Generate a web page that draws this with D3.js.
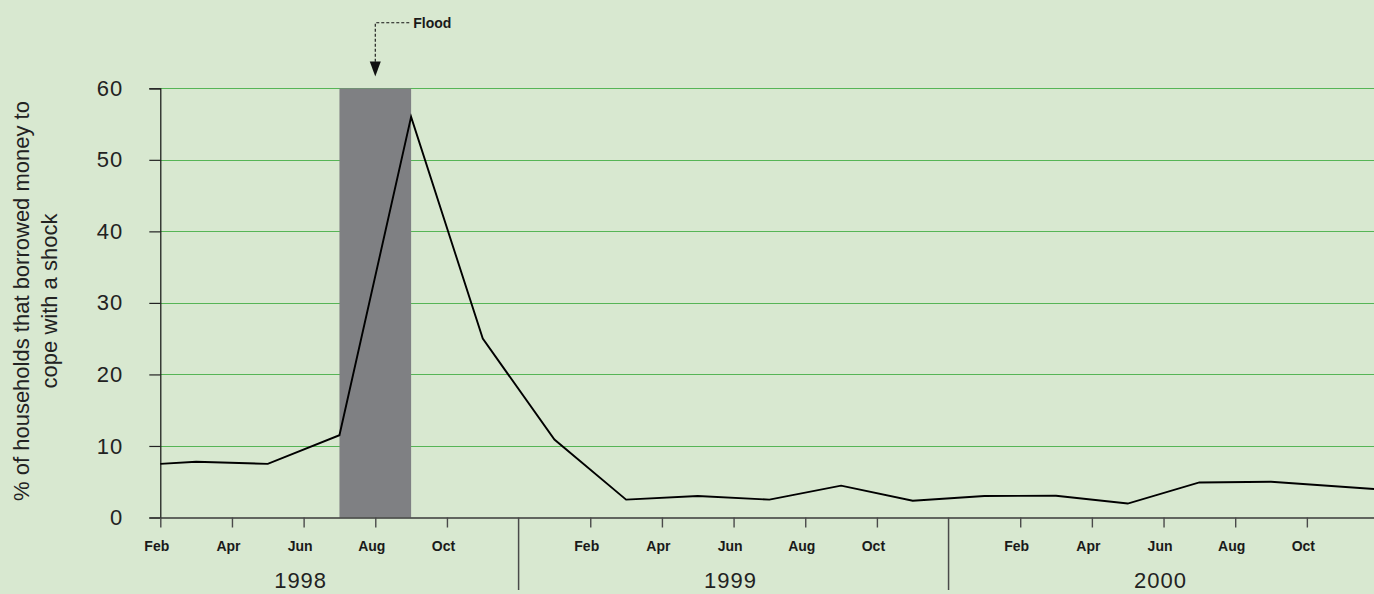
<!DOCTYPE html>
<html>
<head>
<meta charset="utf-8">
<script src="https://cdn.jsdelivr.net/npm/d3@7"></script>
<style>
  html, body { margin: 0; padding: 0; background: #d8e8d0; }
  svg { display: block; }
</style>
</head>
<body>
<svg id="chart" width="1374" height="594"></svg>
<script>
// ---- data ----
const pointMonths = ["1998-02","1998-03","1998-05","1998-07","1998-09","1998-11",
                     "1999-01","1999-03","1999-05","1999-07","1999-09","1999-11",
                     "2000-01","2000-03","2000-05","2000-07","2000-09","2000-12"];
const pointValues = [7.5, 7.8, 7.5, 11.5, 56, 25,
                     10.9, 2.5, 3.0, 2.5, 4.45, 2.35,
                     3.0, 3.05, 1.95, 4.9, 5.0, 3.95];
const tickMonths = ["1998-02","1998-04","1998-06","1998-08","1998-10",
                    "1999-02","1999-04","1999-06","1999-08","1999-10",
                    "2000-02","2000-04","2000-06","2000-08","2000-10"];
const tickLabels = ["Feb","Apr","Jun","Aug","Oct",
                    "Feb","Apr","Jun","Aug","Oct",
                    "Feb","Apr","Jun","Aug","Oct"];
const years = ["1998","1999","2000"];
const yearCentreMonths = ["1998-06","1999-06","2000-06"];
const yearSeparatorMonths = ["1998-12","1999-12"];
const yTicks = [0, 10, 20, 30, 40, 50, 60];
const floodStart = "1998-07", floodEnd = "1998-09", floodArrow = "1998-08";
const floodLabel = "Flood";
const yTitleLines = ["% of households that borrowed money to", "cope with a shock"];
const domainMonths = ["1998-02", "2000-12"];

// ---- helpers ----
const mIdx = s => { const [y, m] = s.split("-").map(Number); return (y - 1998) * 12 + (m - 1); };

const svg = d3.select("#chart");
const W = 1374, H = 594;
svg.append("rect").attr("width", W).attr("height", H).attr("fill", "#d8e8d0");

const x0 = 160.3, monthW = 35.83;
const x = d3.scaleLinear()
  .domain(domainMonths.map(mIdx))
  .range([x0, x0 + (mIdx(domainMonths[1]) - mIdx(domainMonths[0])) * monthW]);
const y = d3.scaleLinear().domain([0, 60]).range([517.5, 88.3]);

const FONT = "'Liberation Sans', Arial, sans-serif";

// gridlines
svg.append("g").selectAll("line").data(yTicks.filter(d => d > 0)).join("line")
  .attr("x1", x0).attr("x2", W)
  .attr("y1", d => Math.round(y(d)) + 0.5).attr("y2", d => Math.round(y(d)) + 0.5)
  .attr("stroke", "#56b556").attr("stroke-width", 1);

// flood shaded period
svg.append("rect")
  .attr("x", x(mIdx(floodStart)))
  .attr("width", x(mIdx(floodEnd)) - x(mIdx(floodStart)))
  .attr("y", y(60)).attr("height", y(0) - y(60))
  .attr("fill", "#7f8083");

// y axis
const yAxis = d3.axisLeft(y).tickValues(yTicks).tickSize(11).tickPadding(26);
const gy = svg.append("g").attr("transform", `translate(${x0},0)`).call(yAxis);
gy.select(".domain").attr("stroke", "#111").attr("stroke-width", 1.2);
gy.selectAll(".tick line").attr("stroke", "#222").attr("stroke-width", 1.2);
gy.selectAll(".tick text").attr("font-family", FONT).attr("font-size", 22)
  .attr("fill", "#222").attr("letter-spacing", "1px");

// x axis
const xAxis = d3.axisBottom(x).tickValues(tickMonths.map(mIdx))
  .tickFormat((d, i) => tickLabels[i]).tickSize(10).tickPadding(14).tickSizeOuter(0);
const gx = svg.append("g").attr("transform", `translate(0,${y(0)})`).call(xAxis);
gx.select(".domain").attr("stroke", "#3a3a3a").attr("stroke-width", 1.4);
gx.selectAll(".tick line").attr("stroke", "#4a4a4a").attr("stroke-width", 1.4);
gx.selectAll(".tick text").attr("font-family", FONT).attr("font-size", 14)
  .attr("font-weight", "bold").attr("fill", "#1a1a1a").attr("dx", -4);

// year separators
svg.append("g").selectAll("line").data(yearSeparatorMonths).join("line")
  .attr("x1", d => x(mIdx(d))).attr("x2", d => x(mIdx(d)))
  .attr("y1", y(0)).attr("y2", 590)
  .attr("stroke", "#4a4a4a").attr("stroke-width", 1.5);

// year labels
svg.append("g").selectAll("text").data(years).join("text")
  .attr("x", (d, i) => x(mIdx(yearCentreMonths[i])) - 3)
  .attr("y", 588)
  .attr("text-anchor", "middle")
  .attr("font-family", FONT).attr("font-size", 22).attr("letter-spacing", "1px")
  .attr("fill", "#222")
  .text(d => d);

// y title
const yt = svg.append("g");
yTitleLines.forEach((t, i) => {
  yt.append("text")
    .attr("transform", `translate(${28.5 + i * 28.5},301) rotate(-90)`)
    .attr("text-anchor", "middle")
    .attr("font-family", FONT).attr("font-size", 22).attr("fill", "#222")
    .text(t);
});

// data line
const line = d3.line().x(d => x(mIdx(d[0]))).y(d => y(d[1]));
svg.append("path")
  .datum(pointMonths.map((m, i) => [m, pointValues[i]]))
  .attr("d", line)
  .attr("fill", "none").attr("stroke", "#000").attr("stroke-width", 1.9)
  .attr("stroke-linejoin", "miter");

// flood annotation
const ax = x(mIdx(floodArrow));
const ay = 22.7;
svg.append("path")
  .attr("d", `M${ax + 34},${ay}H${ax}V62`)
  .attr("fill", "none").attr("stroke", "#111").attr("stroke-width", 1.1)
  .attr("stroke-dasharray", "3,2");
svg.append("path")
  .attr("d", `M${ax - 5.5},61.5L${ax + 5.5},61.5L${ax},76.5Z`)
  .attr("fill", "#111");
svg.append("text")
  .attr("x", ax + 38).attr("y", 27.5)
  .attr("font-family", FONT).attr("font-size", 14).attr("font-weight", "bold")
  .attr("fill", "#1a1a1a")
  .text(floodLabel);
</script>
</body>
</html>
